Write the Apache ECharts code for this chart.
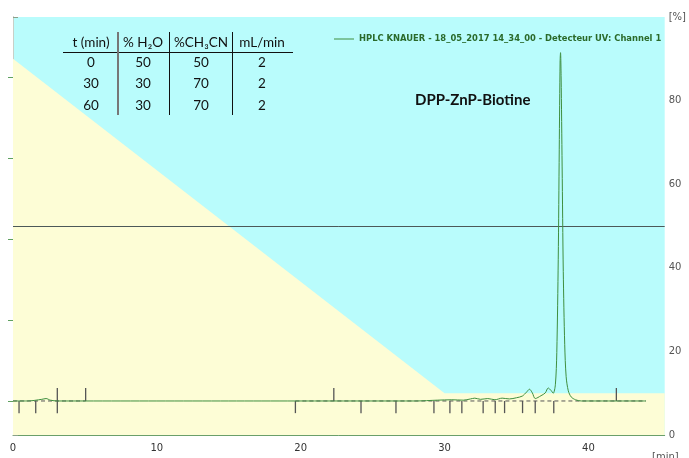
<!DOCTYPE html>
<html>
<head>
<meta charset="utf-8">
<script src="https://cdn.jsdelivr.net/npm/echarts@6/dist/echarts.min.js"></script>
<style>
  html, body { margin: 0; padding: 0; background: #fff; }
  #chart { width: 689px; height: 458px; }
</style>
</head>
<body>
<div id="chart"></div>
<script>
const SERIES_NAME = 'HPLC KNAUER - 18_05_2017 14_34_00 - Detecteur UV: Channel 1';

// chromatogram (left axis, detector units)
const traceTimes = [0, 1.0, 2.0, 2.3, 2.6, 3.1, 5.0, 10, 15, 19.6, 22.3, 25, 28, 29.5, 30.5, 31.3, 31.8, 32.1, 32.5, 33.0, 33.5, 34.0, 34.5, 35.0, 35.4, 35.7, 35.9, 36.1, 36.3, 36.7, 37.0, 37.2, 37.4, 37.55, 37.7, 37.8, 37.9, 37.97, 38.03, 38.06, 38.1, 38.17, 38.25, 38.35, 38.45, 38.6, 38.8, 39.1, 39.5, 41, 44];
const traceValues = [0, 0, 0.4, 0.6, 0.2, 0, 0, 0, 0, 0, 0, 0, 0, 0.2, 0.3, 0.2, 0.5, 0.7, 0.4, 0.6, 0.3, 0.7, 0.5, 0.8, 1.2, 2.2, 2.9, 2.0, 0.6, 1.3, 2.0, 3.2, 2.6, 1.9, 4, 12, 35, 62, 84, 86, 80, 58, 32, 14, 6, 2.5, 1, 0.3, 0, 0, 0];

// integration events: -1 below baseline, 1 above, 0 both
const eventTimes = [0.42, 1.58, 3.08, 5.05, 19.63, 22.3, 24.19, 26.62, 29.26, 30.37, 31.2, 32.68, 33.52, 34.17, 35.42, 36.3, 37.59, 41.94];
const eventDirs = [-1, -1, 0, 1, -1, 1, -1, -1, -1, -1, -1, -1, -1, -1, -1, -1, -1, 1];
const baselineSegments = [[0, 5.05], [19.63, 44]];

// gradient (right axis, %)
const gradientTimes = [0, 30, 45.3];
const gradientValues = [90, 10, 10];
const flowLevel = 50;

// table
const tableHeader = ['t (min)', '% H₂O', '%CH₃CN', 'mL/min'];
const tableRows = [
  ['0', '50', '50', '2'],
  ['30', '30', '70', '2'],
  ['60', '30', '70', '2'],
];

const xTicks = [0, 10, 20, 30, 40];
const leftTicks = [0, 20, 40, 60, 80];

const chart = echarts.init(document.getElementById('chart'));

const tableCols = [91, 143, 201, 262];
const tableRowY = [63, 84, 106];
const tableGraphics = [];
tableHeader.forEach((h, i) => {
  tableGraphics.push({ type: 'text', x: tableCols[i], y: 43, style: { text: h, fontFamily: 'Lato, DejaVu Sans', fontSize: 13.5, fill: '#111', align: 'center', verticalAlign: 'middle' } });
});
tableRows.forEach((row, r) => {
  row.forEach((cell, i) => {
    tableGraphics.push({ type: 'text', x: tableCols[i], y: tableRowY[r], style: { text: cell, fontFamily: 'Lato, DejaVu Sans', fontSize: 13.5, fill: '#111', align: 'center', verticalAlign: 'middle' } });
  });
});
tableGraphics.push({ type: 'line', shape: { x1: 63, y1: 52.5, x2: 293, y2: 52.5 }, style: { stroke: '#111', lineWidth: 1 } });
tableGraphics.push({ type: 'line', shape: { x1: 118, y1: 32, x2: 118, y2: 115 }, style: { stroke: '#777', lineWidth: 2 } });
tableGraphics.push({ type: 'line', shape: { x1: 169.5, y1: 32, x2: 169.5, y2: 115 }, style: { stroke: '#111', lineWidth: 1 } });
tableGraphics.push({ type: 'line', shape: { x1: 232.5, y1: 32, x2: 232.5, y2: 115 }, style: { stroke: '#111', lineWidth: 1 } });

const option = {
  animation: false,
  grid: { left: 13, right: 22, top: 17, bottom: 23, show: true, backgroundColor: '#b9fcfc', borderWidth: 0 },
  legend: {
    left: 329, top: 30, icon: 'rect', itemWidth: 20, itemHeight: 1, itemGap: 5,
    textStyle: { fontFamily: 'DejaVu Sans', fontWeight: 'bold', fontSize: 8.4, color: '#2a6a2a' },
    data: [SERIES_NAME],
  },
  xAxis: [
    {
      type: 'value', min: 0, max: 45.3, interval: 10,
      axisLine: { show: false },
      axisTick: { show: true, length: 6, lineStyle: { color: '#6aa86a' }, customValues: xTicks },
      axisLabel: { color: '#333', fontSize: 10, fontFamily: 'DejaVu Sans', margin: 8, customValues: xTicks },
      splitLine: { show: false },
    },
    {
      type: 'value', position: 'top', min: 0, max: 45.3,
      axisLine: { show: true, lineStyle: { color: '#6a9f6a', width: 1 } },
      axisTick: { show: false }, axisLabel: { show: false }, splitLine: { show: false },
    },
  ],
  yAxis: [
    {
      type: 'value', position: 'left', min: -8.4, max: 94.8,
      axisLine: { show: true, lineStyle: { color: '#9aa89a' } },
      axisTick: { show: true, length: 5, lineStyle: { color: '#5fa05f' }, customValues: leftTicks },
      axisLabel: { show: false },
      splitLine: { show: false },
    },
    {
      type: 'value', position: 'right', min: 0, max: 100, interval: 20,
      axisLine: { show: true, lineStyle: { color: '#c8d0c8' } },
      axisTick: { show: true, length: 5, lineStyle: { color: '#8aa08a' } },
      axisLabel: {
        color: '#555', fontSize: 10, fontFamily: 'DejaVu Sans', margin: 4,
        formatter: (v) => (v === 100 ? '[%]' : String(v)),
      },
      splitLine: { show: false },
    },
  ],
  graphic: [
    ...tableGraphics,
    { type: 'text', x: 415, y: 100, style: { text: 'DPP-ZnP-Biotine', fontFamily: 'Lato, DejaVu Sans', fontWeight: 'bold', fontSize: 15, fill: '#111', verticalAlign: 'middle' } },
    { type: 'text', x: 652, y: 452, style: { text: '[min]', fontFamily: 'DejaVu Sans', fontSize: 10, fill: '#555' } },
  ],
  series: [
    {
      name: 'gradient', type: 'line', xAxisIndex: 0, yAxisIndex: 1,
      data: gradientTimes.map((t, i) => [t, gradientValues[i]]),
      showSymbol: false, silent: true, z: 1,
      lineStyle: { width: 0 },
      areaStyle: { color: '#fdfdd6', opacity: 1 },
      markLine: {
        silent: true, symbol: 'none', label: { show: false },
        lineStyle: { color: '#4c5858', width: 1, type: 'solid' },
        data: [{ yAxis: flowLevel }],
      },
    },
    {
      name: 'baseline', type: 'custom', xAxisIndex: 0, yAxisIndex: 0, z: 3, silent: true,
      data: baselineSegments,
      encode: { x: [0, 1] },
      renderItem: (params, api) => {
        const p1 = api.coord([api.value(0), 0]);
        const p2 = api.coord([api.value(1), 0]);
        return { type: 'line', shape: { x1: p1[0], y1: p1[1], x2: p2[0], y2: p2[1] }, style: { stroke: '#555', lineWidth: 1, lineDash: [4, 3] } };
      },
    },
    {
      name: 'events', type: 'custom', xAxisIndex: 0, yAxisIndex: 0, z: 4, silent: true,
      data: eventTimes.map((t, i) => [t, eventDirs[i]]),
      encode: { x: 0 },
      renderItem: (params, api) => {
        const t = api.value(0);
        const dir = api.value(1);
        const top = dir >= 0 ? 3.2 : 0;
        const bottom = dir <= 0 ? -3 : 0;
        const p1 = api.coord([t, top]);
        const p2 = api.coord([t, bottom]);
        return { type: 'line', shape: { x1: p1[0], y1: p1[1], x2: p2[0], y2: p2[1] }, style: { stroke: '#555', lineWidth: 1.3 } };
      },
    },
    {
      name: SERIES_NAME, type: 'line', xAxisIndex: 0, yAxisIndex: 0, z: 5,
      data: traceTimes.map((t, i) => [t, traceValues[i]]),
      showSymbol: false, smooth: 0.3,
      lineStyle: { color: '#3f8f3f', width: 1 },
      itemStyle: { color: '#3f8f3f' },
    },
  ],
};

chart.setOption(option);
</script>
</body>
</html>
